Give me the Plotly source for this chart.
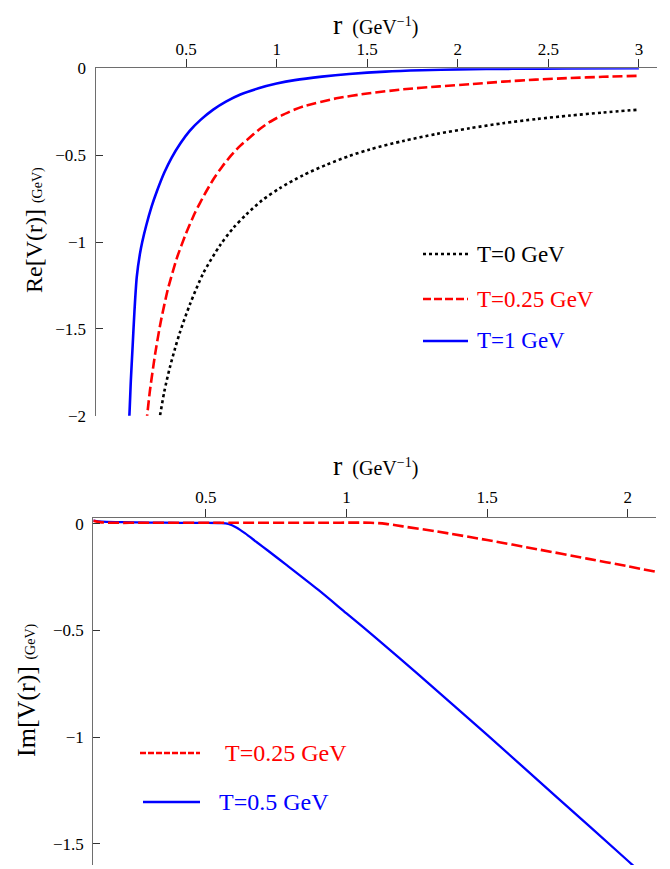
import plotly.graph_objects as go

# ---------------- data ----------------
# Top panel: Re[V(r)] in GeV vs r in GeV^-1
r_re_T0 = [0.35, 0.356, 0.38, 0.411, 0.44, 0.466, 0.521, 0.595, 0.687, 0.76, 0.834, 0.92,
           1.018, 1.147, 1.276, 1.40, 1.515, 1.70, 1.883, 2.067, 2.25, 2.435, 2.62, 2.80, 3.0]
re_T0 = [-2.03, -2.0, -1.86, -1.72, -1.61, -1.52, -1.36, -1.18, -1.02, -0.92, -0.84, -0.76,
         -0.69, -0.615, -0.555, -0.505, -0.467, -0.418, -0.378, -0.345, -0.316, -0.292,
         -0.272, -0.255, -0.238]

r_re_T025 = [0.28, 0.30, 0.33, 0.36, 0.40, 0.45, 0.50, 0.55, 0.60, 0.65, 0.70, 0.75, 0.80,
             0.85, 0.90, 0.96, 1.03, 1.10, 1.15, 1.33, 1.50, 1.70, 1.90, 2.07, 2.25, 2.43,
             2.62, 2.80, 3.0]
re_T025 = [-2.05, -1.86, -1.64, -1.46, -1.27, -1.09, -0.95, -0.83, -0.73, -0.64, -0.565,
           -0.50, -0.445, -0.40, -0.355, -0.31, -0.27, -0.237, -0.218, -0.173, -0.145,
           -0.121, -0.104, -0.091, -0.077, -0.065, -0.056, -0.049, -0.043]

r_re_T1 = [0.183, 0.187, 0.195, 0.205, 0.215, 0.228, 0.245, 0.258, 0.28, 0.31, 0.34, 0.38,
           0.42, 0.47, 0.52, 0.58, 0.65, 0.72, 0.80, 0.90, 1.0, 1.1, 1.25, 1.4, 1.6, 1.8,
           2.0, 2.3, 2.6, 3.0]
re_T1 = [-2.05, -2.0, -1.8, -1.6, -1.4, -1.2, -1.07, -1.0, -0.905, -0.795, -0.705, -0.60,
         -0.515, -0.43, -0.36, -0.297, -0.238, -0.192, -0.151, -0.115, -0.088, -0.068,
         -0.048, -0.033, -0.019, -0.011, -0.006, -0.003, -0.001, 0.0]

# Bottom panel: Im[V(r)] in GeV vs r in GeV^-1
r_im_T025 = [0.1, 0.13, 0.3, 0.6, 0.9, 1.086, 1.14, 1.20, 1.322, 1.5, 1.678, 1.855, 2.0, 2.1]
im_T025 = [0.015, 0.007, 0.005, 0.005, 0.005, 0.005, 0.0, -0.012, -0.036, -0.076, -0.119,
           -0.163, -0.199, -0.225]

r_im_T05 = [0.1, 0.13, 0.2, 0.3, 0.4, 0.5, 0.55, 0.58, 0.61, 0.64, 0.68, 0.72, 0.784, 0.9,
            1.0, 1.1, 1.25, 1.5, 1.75, 2.0, 2.1]
im_T05 = [0.015, 0.01, 0.008, 0.006, 0.005, 0.005, 0.004, 0.0, -0.018, -0.045, -0.085,
          -0.125, -0.19, -0.31, -0.42, -0.53, -0.70, -0.99, -1.285, -1.58, -1.70]

top_xticks = [0.5, 1, 1.5, 2, 2.5, 3]
top_xticktext = ["0.5", "1", "1.5", "2", "2.5", "3"]
top_yticks = [-2, -1.5, -1, -0.5, 0]
top_yticktext = ["−2", "−1.5", "−1", "−0.5", "0"]
bot_xticks = [0.5, 1, 1.5, 2]
bot_xticktext = ["0.5", "1", "1.5", "2"]
bot_yticks = [-1.5, -1, -0.5, 0]
bot_yticktext = ["−1.5", "−1", "−0.5", "0"]

# ---------------- figure ----------------
W, H = 670, 869
OFF = 8                      # page body margin of the html page
FW, FH = W - OFF, H - OFF    # figure size so it fits the window
SERIF = "Liberation Serif"
BLUE, RED, BLACK = "#0000ff", "#ff0000", "#000000"
AX = "#6e6e6e"


def px(x):
    return (x - OFF) / FW


def py(y):
    return 1 - (y - OFF) / FH


fig = go.Figure()

fig.add_trace(go.Scatter(x=r_re_T0, y=re_T0, mode="lines", name="T=0 GeV",
                         line=dict(color=BLACK, width=2.6, dash="3px,3px", shape="spline",
                                   smoothing=0.8),
                         xaxis="x", yaxis="y", showlegend=False))
fig.add_trace(go.Scatter(x=r_re_T025, y=re_T025, mode="lines", name="T=0.25 GeV",
                         line=dict(color=RED, width=2.6, dash="10px,4px", shape="spline",
                                   smoothing=0.6),
                         xaxis="x", yaxis="y", showlegend=False))
fig.add_trace(go.Scatter(x=r_re_T1, y=re_T1, mode="lines", name="T=1 GeV",
                         line=dict(color=BLUE, width=2.6, shape="spline", smoothing=0.8),
                         xaxis="x", yaxis="y", showlegend=False))

fig.add_trace(go.Scatter(x=r_im_T05, y=im_T05, mode="lines", name="T=0.5 GeV",
                         line=dict(color=BLUE, width=2.3, shape="spline", smoothing=0.8),
                         xaxis="x2", yaxis="y2", showlegend=False))
fig.add_trace(go.Scatter(x=r_im_T025, y=im_T025, mode="lines", name="T=0.25 GeV",
                         line=dict(color=RED, width=2.6, dash="11px,4px", shape="spline",
                                   smoothing=0.8),
                         xaxis="x2", yaxis="y2", showlegend=False))

tickfont = dict(family=SERIF, size=17, color="black")
common = dict(showgrid=False, zeroline=False, showline=True, linecolor=AX, linewidth=1.2,
              tickfont=tickfont, tickcolor="#333333", tickwidth=1, fixedrange=True,
              automargin=False)

fig.update_layout(
    width=FW, height=FH,
    margin=dict(l=0, r=0, t=0, b=0, pad=0, autoexpand=False),
    paper_bgcolor="white", plot_bgcolor="white",
    showlegend=False,
    font=dict(family=SERIF, color="black"),
    xaxis=dict(domain=[px(95.5), px(657)], range=[0, 3.1], side="top", anchor="y",
               ticks="outside", ticklen=8, tickvals=top_xticks, ticktext=top_xticktext,
               ticklabelstandoff=-3, **common),
    yaxis=dict(domain=[py(415.7), py(68.3)], range=[-2, 0], anchor="x",
               ticks="inside", ticklen=7, tickvals=top_yticks, ticktext=top_yticktext,
               ticklabelstandoff=5, **common),
    xaxis2=dict(domain=[px(93.3), px(656)], range=[0.1, 2.1], side="top", anchor="y2",
                ticks="outside", ticklen=8, tickvals=bot_xticks, ticktext=bot_xticktext,
                ticklabelstandoff=-1, **common),
    yaxis2=dict(domain=[py(865), py(518.3)], range=[-1.6, 0.026], anchor="x2",
                ticks="inside", ticklen=7, tickvals=bot_yticks, ticktext=bot_yticktext,
                ticklabelstandoff=5, **common),
)

# Axis titles
title_r = ("<span style='font-size:28px'>r</span>"
           "<span style='font-size:20px'>  (GeV<sup>−1</sup>)</span>")
fig.add_annotation(text=title_r, x=px(375), y=py(25), xref="paper", yref="paper",
                   xanchor="center", yanchor="middle", showarrow=False,
                   font=dict(family=SERIF, size=20, color="black"))
fig.add_annotation(text=title_r, x=px(375), y=py(465), xref="paper", yref="paper",
                   xanchor="center", yanchor="middle", showarrow=False,
                   font=dict(family=SERIF, size=20, color="black"))
fig.add_annotation(text="Re[V(r)] <span style='font-size:14px'>(GeV)</span>",
                   x=px(34), y=py(230), xref="paper", yref="paper", textangle=-90,
                   xanchor="center", yanchor="middle", showarrow=False,
                   font=dict(family=SERIF, size=24, color="black"))
fig.add_annotation(text="Im[V(r)] <span style='font-size:14px'>(GeV)</span>",
                   x=px(26), y=py(690), xref="paper", yref="paper", textangle=-90,
                   xanchor="center", yanchor="middle", showarrow=False,
                   font=dict(family=SERIF, size=26, color="black"))

# Legends (drawn as key lines + coloured labels)
legend_top = [("T=0 GeV", BLACK, "3px,3px", 254),
              ("T=0.25 GeV", RED, "8px,3px", 299),
              ("T=1 GeV", BLUE, "solid", 341)]
for label, col, dash, yy in legend_top:
    fig.add_shape(type="line", xref="paper", yref="paper", x0=px(423), x1=px(468),
                  y0=py(yy), y1=py(yy), line=dict(color=col, width=2.4, dash=dash))
    fig.add_annotation(text=label, x=px(475), y=py(yy), xref="paper", yref="paper",
                       xanchor="left", yanchor="middle", showarrow=False,
                       font=dict(family=SERIF, size=23, color=col))

legend_bot = [("T=0.25 GeV", RED, "6px,2px", 753, 140, 223),
              ("T=0.5 GeV", BLUE, "solid", 802, 143, 217)]
for label, col, dash, yy, x0, xt in legend_bot:
    fig.add_shape(type="line", xref="paper", yref="paper", x0=px(x0), x1=px(200),
                  y0=py(yy), y1=py(yy), line=dict(color=col, width=2.6, dash=dash))
    fig.add_annotation(text=label, x=px(xt), y=py(yy), xref="paper", yref="paper",
                       xanchor="left", yanchor="middle", showarrow=False,
                       font=dict(family=SERIF, size=24, color=col))

fig.write_html("out.html")
